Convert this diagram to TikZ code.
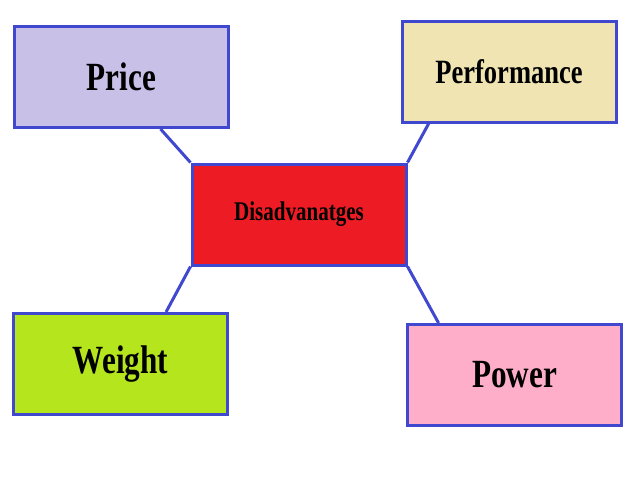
\documentclass[tikz,border=0pt]{standalone}
\usepackage{fontspec}
\setmainfont{Liberation Serif}[FakeStretch=0.78]
\usetikzlibrary{calc}
\begin{document}
\begin{tikzpicture}[x=1pt,y=-1pt,
  box/.style={draw=blue!70!black!60!cyan!0!blue, draw=bord, line width=3pt, minimum width=214pt, minimum height=101pt, inner sep=0pt, font=\bfseries\fontsize{40}{40}\selectfont},
  link/.style={draw=bord, line width=3pt}]
\definecolor{bord}{HTML}{4048D0}
\useasboundingbox (0,0) rectangle (640,480);
\fill[white] (0,0) rectangle (640,480);
\node[box, fill={rgb,255:red,200;green,192;blue,230}] (price) at (121.5,77) {Price};
\node[box, fill={rgb,255:red,239;green,228;blue,178}] (perf) at (509,71.5) {\fontsize{34}{34}\selectfont Performance};
\node[box, fill={rgb,255:red,237;green,28;blue,36}] (dis) at (299,214.5) {\fontsize{27}{27}\selectfont Disadvanatges};
\node[box, fill={rgb,255:red,181;green,230;blue,29}] (weight) at (120.5,364) {Weight};
\node[box, fill={rgb,255:red,255;green,174;blue,201}] (power) at (514.5,375) {Power};
\draw[link] ($(price.south west)!0.68!(price.south east)$) -- (dis.north west);
\draw[link] ($(perf.south west)!0.13!(perf.south east)$) -- (dis.north east);
\draw[link] ($(weight.north west)!0.71!(weight.north east)$) -- (dis.south west);
\draw[link] ($(power.north west)!0.15!(power.north east)$) -- (dis.south east);
\end{tikzpicture}
\end{document}
